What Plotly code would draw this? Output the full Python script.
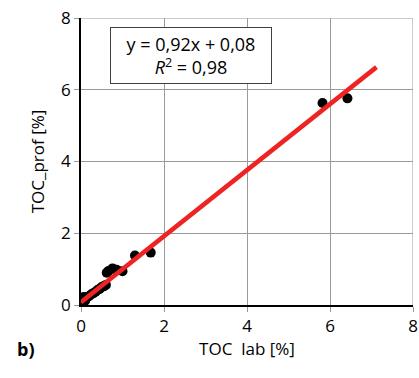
import plotly.graph_objects as go

toc_lab = [0.02, 0.03, 0.05, 0.06, 0.08, 0.10, 0.12, 0.15, 0.20, 0.25, 0.30, 0.35, 0.40, 0.45,
           0.50, 0.55, 0.60, 0.62, 0.66, 0.76, 0.86, 1.00, 1.30, 1.68, 5.82, 6.42]
toc_prof = [0.05, 0.18, 0.10, 0.22, 0.14, 0.12, 0.20, 0.22, 0.25, 0.30, 0.33, 0.37, 0.42, 0.45,
            0.50, 0.52, 0.56, 0.90, 0.95, 1.02, 0.98, 0.94, 1.38, 1.46, 5.63, 5.76]
slope = 0.92
intercept = 0.08
fit_x = [0.0, 7.12]
fit_y = [slope * v + intercept for v in fit_x]
ticks = [0, 2, 4, 6, 8]

font = "Open Sans, Liberation Sans, sans-serif"
grid = "#9a9a9a"

fig = go.Figure()
fig.add_trace(go.Scatter(x=toc_lab, y=toc_prof, mode="markers",
                         marker=dict(color="black", size=10), showlegend=False))
fig.add_trace(go.Scatter(x=fit_x, y=fit_y, mode="lines",
                         line=dict(color="#ee2424", width=4.5), showlegend=False))

axis_common = dict(range=[0, 8], tickvals=ticks, showgrid=True, gridcolor=grid, gridwidth=1,
                   showline=True, linecolor="black", linewidth=1.5, zeroline=False,
                   ticks="outside", ticklen=5, tickcolor=grid, automargin=False,
                   ticklabeloverflow="allow",
                   tickfont=dict(family=font, size=17, color="black"))

fig.update_layout(
    width=419, height=378,
    margin=dict(l=81, r=6, t=18, b=73),
    paper_bgcolor="white", plot_bgcolor="white",
    font=dict(family=font, color="black"),
    xaxis=dict(**axis_common, title=dict(text="TOC  lab [%]", font=dict(size=17), standoff=6)),
    yaxis=dict(**axis_common, title=dict(text="TOC_prof [%]", font=dict(size=17), standoff=12)),
)

# top and right gridlines at 8
fig.add_shape(type="line", xref="paper", yref="y", x0=0, x1=1, y0=8, y1=8,
              line=dict(color=grid, width=1), layer="below")
fig.add_shape(type="line", xref="x", yref="paper", x0=8, x1=8, y0=0, y1=1,
              line=dict(color=grid, width=1), layer="below")

fig.add_annotation(x=2.65, y=6.96, xref="x", yref="y",
                   text="y = 0,92x + 0,08<br><i>R</i><sup>2</sup> = 0,98",
                   showarrow=False, font=dict(family=font, size=18, color="black"),
                   bgcolor="white", bordercolor="#404040", borderwidth=1, borderpad=4,
                   width=152, xanchor="center", yanchor="middle", align="center")

fig.add_annotation(xref="paper", yref="paper", x=-0.2, y=-0.155, text="<b>b)</b>",
                   showarrow=False, font=dict(family=font, size=18, color="black"),
                   xanchor="left", yanchor="middle")

fig.write_html("out.html", config={"displayModeBar": False},
               post_script="document.body.style.margin='0';")
